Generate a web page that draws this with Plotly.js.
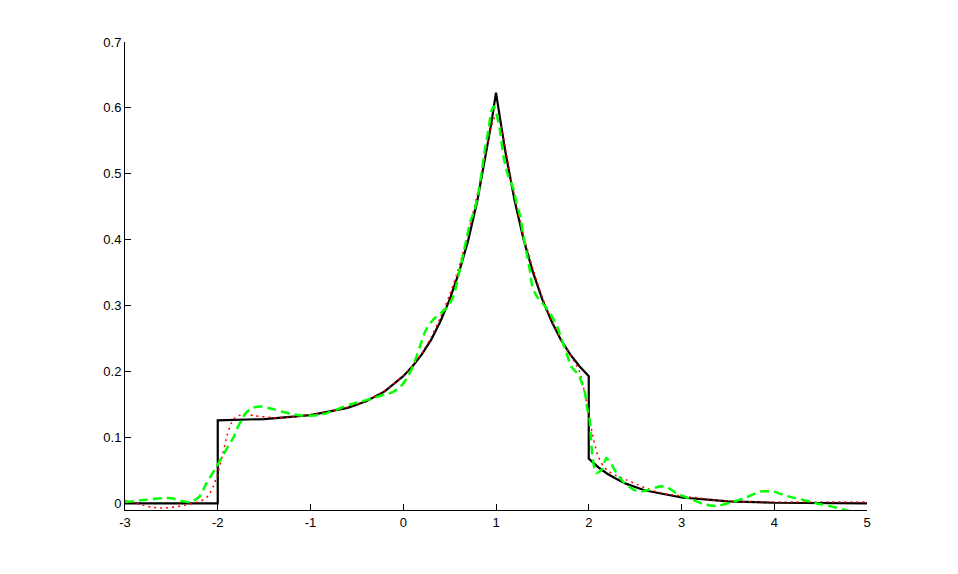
<!DOCTYPE html>
<html>
<head>
<meta charset="utf-8">
<script src="https://cdn.plot.ly/plotly-3.0.1.min.js"></script>
<style>html,body{margin:0;padding:0;background:#fff;}#chart{width:958px;height:574px;}</style>
</head>
<body>
<div id="chart"></div>
<script>
// True density (black, solid)
var blackX = [-3, -2, -2, -1.5, -1, -0.8, -0.6, -0.4, -0.2, 0, 0.1, 0.2, 0.3, 0.4, 0.5, 0.6, 0.7, 0.8, 0.9, 0.95, 1, 1.05, 1.1, 1.2, 1.3, 1.4, 1.5, 1.6, 1.7, 1.8, 1.9, 2, 2, 2.1, 2.2, 2.3, 2.4, 2.6, 2.8, 3, 3.25, 3.5, 4, 4.5, 5];
var blackY = [0, 0, 0.126, 0.128, 0.134, 0.139, 0.145, 0.155, 0.170, 0.193, 0.208, 0.226, 0.248, 0.276, 0.309, 0.350, 0.399, 0.460, 0.534, 0.577, 0.623, 0.577, 0.534, 0.460, 0.399, 0.350, 0.309, 0.276, 0.248, 0.226, 0.208, 0.193, 0.068, 0.055, 0.045, 0.037, 0.030, 0.020, 0.014, 0.009, 0.006, 0.003, 0.001, 0.0005, 0.0002];

// Smooth estimate (red, dotted)
var redX = [-3, -2.9, -2.8, -2.7, -2.6, -2.5, -2.4, -2.3, -2.2, -2.15, -2.1, -2.05, -2, -1.95, -1.9, -1.85, -1.8, -1.7, -1.6, -1.4, -1.2, -1, -0.8, -0.6, -0.4, -0.2, 0, 0.1, 0.2, 0.3, 0.4, 0.5, 0.6, 0.7, 0.8, 0.85, 0.9, 0.95, 1, 1.05, 1.1, 1.15, 1.2, 1.3, 1.4, 1.5, 1.6, 1.7, 1.8, 1.9, 1.95, 2, 2.05, 2.1, 2.15, 2.2, 2.3, 2.4, 2.5, 2.6, 2.7, 2.8, 2.9, 3, 3.2, 3.4, 3.6, 3.8, 4, 4.5, 5];
var redY = [0.004, 0.001, -0.003, -0.006, -0.007, -0.006, -0.004, -0.001, 0.003, 0.006, 0.012, 0.025, 0.045, 0.072, 0.103, 0.123, 0.132, 0.135, 0.133, 0.130, 0.131, 0.135, 0.139, 0.146, 0.156, 0.171, 0.194, 0.209, 0.228, 0.252, 0.282, 0.316, 0.358, 0.410, 0.470, 0.505, 0.540, 0.572, 0.590, 0.575, 0.540, 0.500, 0.466, 0.405, 0.355, 0.312, 0.278, 0.250, 0.226, 0.200, 0.172, 0.135, 0.098, 0.072, 0.058, 0.050, 0.042, 0.036, 0.030, 0.024, 0.019, 0.015, 0.013, 0.011, 0.008, 0.004, 0.003, 0.002, 0.002, 0.002, 0.002];

// Wiggly estimate (green, dashed)
var greenX = [-3, -2.8, -2.6, -2.5, -2.4, -2.3, -2.2, -2.12, -2.02, -1.96, -1.9, -1.83, -1.78, -1.74, -1.7, -1.62, -1.53, -1.4, -1.22, -1.08, -0.9, -0.57, -0.39, -0.28, -0.17, -0.1, -0.03, 0.04, 0.11, 0.18, 0.24, 0.33, 0.4, 0.47, 0.54, 0.61, 0.65, 0.68, 0.72, 0.77, 0.81, 0.85, 0.88, 0.92, 0.95, 0.98, 1.01, 1.04, 1.08, 1.12, 1.19, 1.22, 1.26, 1.29, 1.33, 1.37, 1.39, 1.44, 1.53, 1.6, 1.66, 1.71, 1.76, 1.81, 1.89, 1.92, 1.96, 1.98, 2.01, 2.02, 2.03, 2.05, 2.08, 2.14, 2.19, 2.25, 2.3, 2.37, 2.48, 2.55, 2.66, 2.77, 2.84, 2.94, 3.09, 3.24, 3.38, 3.52, 3.7, 3.85, 3.99, 4.14, 4.32, 4.46, 4.6, 4.76, 4.9, 5];
var greenY = [0.002, 0.005, 0.008, 0.008, 0.004, 0.002, 0.010, 0.031, 0.054, 0.069, 0.084, 0.100, 0.117, 0.127, 0.137, 0.145, 0.147, 0.143, 0.136, 0.133, 0.134, 0.150, 0.157, 0.162, 0.166, 0.170, 0.177, 0.190, 0.210, 0.238, 0.262, 0.280, 0.288, 0.297, 0.314, 0.355, 0.380, 0.400, 0.426, 0.446, 0.471, 0.507, 0.537, 0.568, 0.595, 0.602, 0.588, 0.568, 0.527, 0.502, 0.476, 0.456, 0.436, 0.410, 0.380, 0.350, 0.330, 0.314, 0.299, 0.284, 0.268, 0.248, 0.228, 0.208, 0.195, 0.185, 0.167, 0.147, 0.127, 0.107, 0.086, 0.061, 0.046, 0.051, 0.069, 0.058, 0.046, 0.033, 0.021, 0.018, 0.021, 0.026, 0.025, 0.016, 0.007, -0.001, -0.004, 0.001, 0.009, 0.018, 0.018, 0.011, 0.005, 0.000, -0.004, -0.010, -0.014, -0.016];

var xTickVals = [-3, -2, -1, 0, 1, 2, 3, 4, 5];
var xTickText = ["-3", "-2", "-1", "0", "1", "2", "3", "4", "5"];
var yTickVals = [0, 0.1, 0.2, 0.3, 0.4, 0.5, 0.6, 0.7];
var yTickText = ["0", "0.1", "0.2", "0.3", "0.4", "0.5", "0.6", "0.7"];

var traces = [
  {x: blackX, y: blackY, type: 'scatter', mode: 'lines', line: {color: '#000000', width: 2.2}, hoverinfo: 'skip'},
  {x: redX, y: redY, type: 'scatter', mode: 'lines', line: {color: '#ff0000', width: 1.5, dash: '2px,4px', shape: 'spline', smoothing: 0.6}, hoverinfo: 'skip'},
  {x: greenX, y: greenY, type: 'scatter', mode: 'lines', line: {color: '#00ff00', width: 2.5, dash: '9px,5px', shape: 'spline', smoothing: 0.6}, hoverinfo: 'skip'}
];

var tickFont = {family: 'Liberation Sans, Arial, Helvetica, sans-serif', size: 13, color: '#000000'};

var layout = {
  width: 958, height: 574,
  margin: {l: 125, r: 91, t: 42, b: 64, pad: 0},
  paper_bgcolor: '#ffffff', plot_bgcolor: '#ffffff',
  showlegend: false,
  xaxis: {
    range: [-3, 5], tickmode: 'array', tickvals: xTickVals, ticktext: xTickText,
    ticks: 'inside', ticklen: 6, tickwidth: 1, tickcolor: '#000',
    showline: true, linecolor: '#000', linewidth: 1, mirror: false,
    showgrid: false, zeroline: false, tickfont: tickFont
  },
  yaxis: {
    range: [-0.01, 0.7], tickmode: 'array', tickvals: yTickVals, ticktext: yTickText,
    ticks: 'inside', ticklen: 6, tickwidth: 1, tickcolor: '#000',
    showline: true, linecolor: '#000', linewidth: 1, mirror: false,
    showgrid: false, zeroline: false, tickfont: tickFont
  }
};

Plotly.newPlot('chart', traces, layout, {staticPlot: true, displayModeBar: false});
</script>
</body>
</html>
